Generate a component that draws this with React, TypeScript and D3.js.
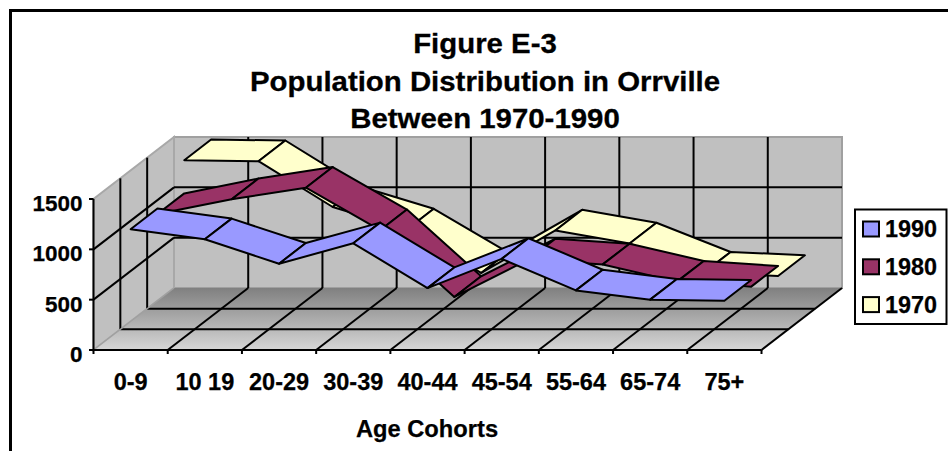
import React from "react";
import * as d3 from "d3";

const categories = ["0-9", "10 19", "20-29", "30-39", "40-44", "45-54", "55-64", "65-74", "75+"];
const years = ["1990", "1980", "1970"];
const v1990 = [1200, 1100, 857, 1060, 615, 905, 592, 500, 490];
const v1980 = [1145, 1293, 1407, 985, 322, 695, 645, 474, 424];
const v1970 = [1475, 1465, 1010, 787, 355, 777, 648, 358, 325];
const colors = ["#9999FF", "#993366", "#FFFFCC"];
const yTicks = [0, 500, 1000, 1500];
const titleLines = ["Figure E-3", "Population Distribution in Orrville", "Between 1970-1990"];

const F = "'Liberation Sans', Arial, sans-serif";
const cat = d3.scaleLinear().domain([0, 9]).range([93.5, 761.5]);
const depX = d3.scaleLinear().domain([0, 3]).range([0, 80.5]);
const depY = d3.scaleLinear().domain([0, 3]).range([0, -62]);
const val = d3.scaleLinear().domain([0, 1500]).range([0, -151]);

const P = (c: number, d: number, v: number): [number, number] => [cat(c) + depX(d), 350 + depY(d) + val(v)];
const poly = (pts: [number, number][]) => (d3.line()(pts) || "") + "Z";
const seg = (a: [number, number], b: [number, number], stroke = "#000", w = 2, key?: string) => (
  <line key={key} x1={a[0]} y1={a[1]} x2={b[0]} y2={b[1]} stroke={stroke} strokeWidth={w} />
);

export default function App() {
  const series = [v1990, v1980, v1970];
  const idx = d3.range(9);
  return (
    <svg width={948} height={451} style={{ position: "absolute", left: 0, top: 0, background: "#fff" }} fontFamily={F} fontWeight="bold">
      <defs>
        <linearGradient id="floor" x1="0" y1="0" x2="0" y2="1">
          <stop offset="0" stopColor="#808080" />
          <stop offset="1" stopColor="#d6d6d6" />
        </linearGradient>
      </defs>
      <path d="M10.5 451V10.5H948" fill="none" stroke="#000" strokeWidth={3} />
      {titleLines.map((t, i) => (
        <text key={t} transform={`translate(485,${53 + i * 37.5}) scale(1.05,1)`} fontSize={28} textAnchor="middle" stroke="#000" strokeWidth={0.3}>{t}</text>
      ))}

      {/* walls and floor */}
      <path d={poly([P(0, 3, 0), P(9, 3, 0), P(9, 3, 1500), P(0, 3, 1500)])} fill="#c0c0c0" stroke="#a0a0a0" strokeWidth={2} />
      <path d={poly([P(0, 0, 0), P(0, 3, 0), P(0, 3, 1500), P(0, 0, 1500)])} fill="#c0c0c0" stroke="#a8a8a8" strokeWidth={2} />
      <path d={poly([P(0, 0, 0), P(9, 0, 0), P(9, 3, 0), P(0, 3, 0)])} fill="url(#floor)" />
      {[500, 1000].map((v) => <g key={v}>
        {seg(P(0, 3, v), P(9, 3, v))}
        {seg(P(0, 0, v), P(0, 3, v))}
      </g>)}
      {d3.range(1, 9).map((c) => seg(P(c, 3, 0), P(c, 3, 1500), "#000", 2, "bv" + c))}
      {[1, 2].map((d) => seg(P(0, d, 0), P(0, d, 1500), "#000", 2, "lv" + d))}
      {[1, 2].map((d) => seg(P(0, d, 0), P(9, d, 0), "#000", 2, "fh" + d))}
      {d3.range(1, 9).map((c) => seg(P(c, 0, 0), P(c, 3, 0), "#000", 2, "fd" + c))}
      {seg(P(9, 0, 0), P(9, 3, 0))}
      {seg(P(0, 0, 0), P(0, 3, 0), "#a0a0a0", 1.5)}

      {/* ribbons, back to front */}
      {[2, 1, 0].map((s) => (
        <g key={s}>
          {idx.slice(0, -1).map((i) => (
            <path
              key={i}
              d={poly([
                P(i + 0.5, s, series[s][i]),
                P(i + 1.5, s, series[s][i + 1]),
                P(i + 1.5, s + 1, series[s][i + 1]),
                P(i + 0.5, s + 1, series[s][i]),
              ])}
              fill={colors[s]}
              stroke="#000"
              strokeWidth={2}
              strokeLinejoin="round"
            />
          ))}
        </g>
      ))}

      {/* axes */}
      {seg(P(0, 0, 0), P(0, 0, 1500))}
      {seg([P(0, 0, 0)[0] - 4, 350], P(9, 0, 0))}
      <g stroke="#000" strokeWidth={0.25}>
        {yTicks.map((v) => (
          <text key={v} x={82.5} y={P(0, 0, v)[1] + 12} fontSize={22.5} textAnchor="end">{v}</text>
        ))}
        {categories.map((c, i) => (
          <text key={c} x={cat(i + 0.5)} y={390} fontSize={23.5} textAnchor="middle">{c}</text>
        ))}
        <text x={427} y={436.5} fontSize={23.7} textAnchor="middle">Age Cohorts</text>
      </g>
      {yTicks.map((v) => seg([89, P(0, 0, v)[1]], P(0, 0, v), "#000", 2, "yt" + v))}
      {d3.range(0, 10).map((c) => seg(P(c, 0, 0), [cat(c), 354], "#000", 2, "t" + c))}

      {/* legend */}
      <rect x={855} y={209.5} width={91.5} height={114.5} fill="#fff" stroke="#000" strokeWidth={2} />
      {years.map((y, i) => (
        <g key={y}>
          <rect x={863} y={221.5 + i * 37.8} width={16} height={15} fill={colors[i]} stroke="#000" strokeWidth={2} />
          <text x={885} y={237 + i * 37.8} fontSize={23.4} stroke="#000" strokeWidth={0.25}>{y}</text>
        </g>
      ))}
    </svg>
  );
}
